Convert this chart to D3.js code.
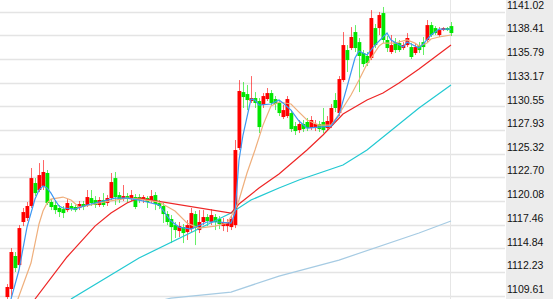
<!DOCTYPE html>
<html>
<head>
<meta charset="utf-8">
<script src="https://cdn.jsdelivr.net/npm/d3@7"></script>
<style>
  html, body { margin: 0; padding: 0; background: #fff; }
  svg { display: block; }
</style>
</head>
<body>
<figure id="kline" style="margin:0"></figure>
<script>
// candle values (one entry per bar)
const open = [1109.46,1110.35,1114.00,1113.00,1117.76,1118.20,1119.53,1122.07,1121.30,1121.74,1123.18,
  1119.97,1119.64,1119.31,1119.19,1119.08,1119.53,1119.42,1119.31,1119.75,1119.64,1120.41,1120.19,1119.64,1120.19,1119.86,1120.41,1122.62,1120.74,1120.30,1120.63,1120.30,1120.52,1120.52,
  1120.19,1120.41,1120.19,1120.74,1119.86,1119.53,1118.64,1118.09,1117.42,1116.76,1117.20,1116.65,1116.98,1118.64,1116.87,1117.76,1118.31,1117.76,1118.31,1118.09,1117.31,1117.31,1117.20,1117.42,1125.94,
  1132.13,1131.91,1131.14,1131.47,1131.14,1130.70,1131.36,1132.02,1131.36,1130.92,1129.37,1129.48,1129.81,1128.37,1127.93,1128.60,1128.82,1128.15,1128.15,1128.60,1128.82,1128.15,1128.48,1131.25,1129.81,1133.46,
  1136.78,1137.00,1138.77,1137.66,1136.45,1136.12,1135.90,1139.21,1139.21,1140.87,1137.89,1136.56,1137.66,1137.55,1137.00,1137.33,1137.11,1136.45,1137.33,1137.66,1137.89,1139.54,1139.21,1138.44,1138.99,1139.21,1139.43];
const close = [1110.57,1114.44,1112.67,1117.09,1118.86,1119.53,1122.62,1120.96,1122.95,1123.29,1119.86,
  1119.42,1119.08,1118.86,1118.75,1119.86,1119.19,1119.08,1119.75,1119.42,1120.52,1119.86,1119.64,1120.19,1119.64,1120.41,1122.18,1120.52,1120.19,1120.63,1120.30,1120.74,1119.42,1120.19,
  1120.52,1119.97,1120.63,1119.75,1119.53,1118.64,1117.76,1117.20,1116.87,1117.31,1116.54,1117.42,1118.75,1117.09,1117.76,1118.31,1117.87,1118.53,1117.76,1117.54,1117.76,1117.76,1118.09,1125.72,1132.25,
  1131.58,1131.25,1131.47,1130.92,1128.26,1131.69,1132.02,1130.92,1130.81,1129.81,1130.14,1131.36,1128.04,1127.82,1128.60,1128.04,1128.15,1129.04,1128.60,1128.04,1127.93,1128.93,1130.37,1130.37,1133.57,1137.33,
  1135.67,1138.22,1137.00,1136.12,1135.23,1135.34,1140.32,1137.33,1140.65,1137.89,1137.00,1137.33,1136.78,1136.78,1137.33,1138.11,1136.01,1137.11,1136.78,1137.11,1139.54,1138.44,1138.66,1138.99,1139.21,1138.99,1138.66];
const high = [1110.90,1114.88,1114.44,1117.42,1119.31,1119.97,1123.73,1122.62,1124.28,1124.61,1123.51,
  1120.30,1120.08,1119.64,1119.53,1120.30,1119.86,1119.64,1120.08,1120.08,1121.30,1121.30,1120.63,1120.52,1120.96,1120.74,1123.18,1123.29,1121.07,1121.85,1120.96,1121.30,1120.85,1120.85,
  1120.74,1120.63,1121.30,1121.07,1120.19,1119.86,1118.97,1118.53,1117.76,1117.76,1117.54,1117.98,1119.31,1118.97,1119.08,1119.08,1118.64,1119.19,1118.64,1118.42,1118.20,1118.09,1118.42,1126.83,1133.46,
  1133.24,1132.91,1133.90,1132.13,1131.47,1132.02,1132.58,1132.36,1131.69,1131.25,1130.70,1131.69,1130.14,1128.82,1129.04,1129.04,1129.26,1129.48,1129.04,1128.93,1130.37,1129.48,1130.81,1132.02,1133.90,1138.77,
  1137.33,1139.32,1139.54,1138.11,1136.78,1136.56,1141.20,1139.66,1140.98,1141.54,1138.33,1138.44,1138.11,1137.89,1137.66,1138.66,1137.55,1137.55,1137.66,1138.22,1140.10,1139.88,1139.43,1139.32,1139.32,1139.32,1139.88];
const low = [1109.13,1109.35,1112.23,1112.67,1117.31,1117.87,1119.31,1120.63,1121.07,1121.30,1119.64,
  1119.08,1118.64,1118.31,1118.20,1118.86,1118.97,1118.86,1119.08,1119.08,1119.42,1119.53,1119.31,1119.42,1119.42,1119.53,1120.19,1119.64,1119.86,1120.08,1119.86,1120.08,1119.19,1119.86,
  1119.86,1119.31,1119.86,1119.08,1119.19,1117.65,1117.42,1115.43,1115.99,1116.10,1115.43,1115.77,1116.65,1115.21,1116.54,1117.42,1117.31,1117.42,1116.87,1116.98,1116.76,1116.65,1116.87,1117.09,1125.72,
  1130.37,1130.14,1130.92,1130.37,1127.60,1130.37,1131.14,1130.59,1130.14,1129.48,1129.15,1129.26,1127.71,1127.38,1127.60,1127.71,1127.82,1127.93,1127.82,1127.71,1127.60,1127.93,1128.15,1129.92,1129.48,1133.24,
  1134.35,1136.78,1136.56,1132.13,1134.90,1135.01,1135.67,1137.00,1138.44,1137.55,1136.56,1136.34,1136.45,1136.56,1136.78,1137.11,1135.78,1136.23,1136.45,1136.23,1137.66,1138.22,1138.44,1138.22,1138.88,1138.88,1138.33];

// moving averages, sampled along each line: bar index + value
const ma5Idx = [1,3,5,7,8,9,10,11,12,13,14,17,20,23,27,30,33,38,41,43,46,50,53,56,57,58,59,61,62,63,66,68,69,71,73,75,78,81,83,85,87,88,90,92,95,96,99,100,103,104,106,108,111];
const ma5 = [1109.24,1112.45,1117.20,1120.30,1121.30,1121.74,1121.52,1120.96,1120.19,1119.53,1119.31,1119.19,1119.64,1119.97,1120.41,1120.41,1120.19,1119.64,1117.87,1117.20,1116.98,1117.76,1117.76,1117.65,1118.75,1124.61,1127.38,1131.36,1131.25,1130.70,1130.81,1131.25,1130.92,1130.14,1128.93,1128.15,1128.26,1128.37,1129.59,1132.69,1135.90,1136.67,1136.23,1137.33,1138.66,1137.89,1137.11,1137.66,1137.00,1137.44,1138.44,1139.10,1139.10];
const ma10Idx = [2,6,8,9,10,11,14,16,18,21,23,27,30,33,38,42,45,48,52,55,57,58,60,62,64,66,68,71,73,75,78,81,83,86,88,90,93,94,97,100,102,103,105,106,108,111];
const ma10 = [1108.36,1113.22,1117.54,1118.97,1119.86,1120.30,1120.52,1120.19,1119.42,1119.64,1119.86,1120.19,1120.41,1120.30,1119.97,1118.97,1117.65,1117.09,1117.31,1117.65,1119.08,1120.19,1123.18,1125.72,1128.48,1130.59,1131.03,1130.81,1129.92,1129.04,1128.48,1128.48,1129.70,1131.80,1133.46,1135.23,1137.22,1137.55,1137.55,1137.89,1137.55,1137.22,1137.55,1138.00,1138.22,1138.44];
const ma20Idx = [7,15,22,26,30,33,56,58,63,68,75,79,84,90,94,98,103,111];
const ma20 = [1109.24,1113.89,1117.31,1118.75,1119.86,1120.41,1118.75,1119.75,1121.52,1123.07,1125.72,1127.38,1129.70,1131.25,1132.02,1133.13,1134.68,1137.33];
const ma60Idx = [16,33,56,61,68,73,84,90,103,111];
const ma60 = [1109.24,1113.78,1118.75,1120.19,1121.52,1122.40,1124.06,1125.72,1130.37,1132.91];
const ma120Idx = [38,41,56,68,83,103,111];
const ma120 = [1109.02,1109.35,1110.01,1111.78,1113.55,1116.54,1117.87];

const tickLabels = ["1141.02","1138.41","1135.79","1133.17","1130.55","1127.93","1125.32",
  "1122.70","1120.08","1117.46","1114.84","1112.23","1109.61"];

const width = 553, height = 299;
const plotRight = 506;

const svg = d3.select("figure#kline")
  .append("svg")
  .attr("width", width)
  .attr("height", height);

const x = d3.scaleLinear().domain([0, open.length - 1]).range([7, 451]);
const y = d3.scaleLinear()
  .domain([+tickLabels[tickLabels.length - 1], +tickLabels[0]])
  .range([295.7, 11.7]);

// right axis panel
svg.append("rect")
  .attr("x", plotRight).attr("y", 0)
  .attr("width", width - plotRight).attr("height", height)
  .style("fill", "#ececec");

// grid
svg.append("g")
  .selectAll("line")
  .data(tickLabels)
  .enter()
  .append("line")
  .attr("x1", 0).attr("x2", plotRight - 1)
  .attr("y1", d => Math.round(y(+d)) + 0.5)
  .attr("y2", d => Math.round(y(+d)) + 0.5)
  .style("stroke", "#e4e4e4")
  .style("stroke-width", 1.6);

svg.append("line")
  .attr("x1", 450.5).attr("x2", 450.5)
  .attr("y1", 0).attr("y2", height)
  .style("stroke", "#e6e6e6");

// axis labels
const yAxis = d3.axisRight(y)
  .tickValues(tickLabels.map(Number))
  .tickSize(0)
  .tickPadding(0)
  .tickFormat((d, i) => tickLabels[i]);
const ax = svg.append("g")
  .attr("transform", "translate(" + (plotRight + 1) + ",0)")
  .call(yAxis);
ax.select(".domain").remove();
ax.selectAll("text")
  .attr("dy", "-0.32em")
  .style("font-family", "'Liberation Sans', Arial, sans-serif")
  .style("font-size", "10.5px")
  .style("fill", "#111");

// candles
const idx = d3.range(open.length);
const col = i => close[i] >= open[i] ? "#ff0000" : "#00e600";
const candles = svg.append("g");
candles.selectAll("line")
  .data(idx)
  .enter()
  .append("line")
  .attr("x1", i => Math.round(x(i)) + 0.5)
  .attr("x2", i => Math.round(x(i)) + 0.5)
  .attr("y1", i => y(high[i]))
  .attr("y2", i => y(low[i]))
  .style("stroke", col)
  .style("stroke-opacity", 0.6);
candles.selectAll("rect")
  .data(idx)
  .enter()
  .append("rect")
  .attr("x", i => Math.round(x(i)) - 1.5)
  .attr("width", 3.8)
  .attr("y", i => y(Math.max(open[i], close[i])))
  .attr("height", i => Math.max(1.5, Math.abs(y(open[i]) - y(close[i]))))
  .style("fill", col);

// moving average lines
const maLines = [
  [ma120Idx, ma120, "#a6cbe3"],
  [ma60Idx, ma60, "#22c9d2"],
  [ma20Idx, ma20, "#ee2626"],
  [ma10Idx, ma10, "#efaf7c"],
  [ma5Idx, ma5, "#3c97f3"]
];
const line = d3.line().x(d => x(d[0])).y(d => y(d[1]));
maLines.forEach(([ix, vals, c]) => {
  svg.append("path")
    .datum(ix.map((k, j) => [k, vals[j]]))
    .attr("d", line)
    .style("fill", "none")
    .style("stroke", c)
    .style("stroke-width", 1.2);
});
</script>
</body>
</html>
